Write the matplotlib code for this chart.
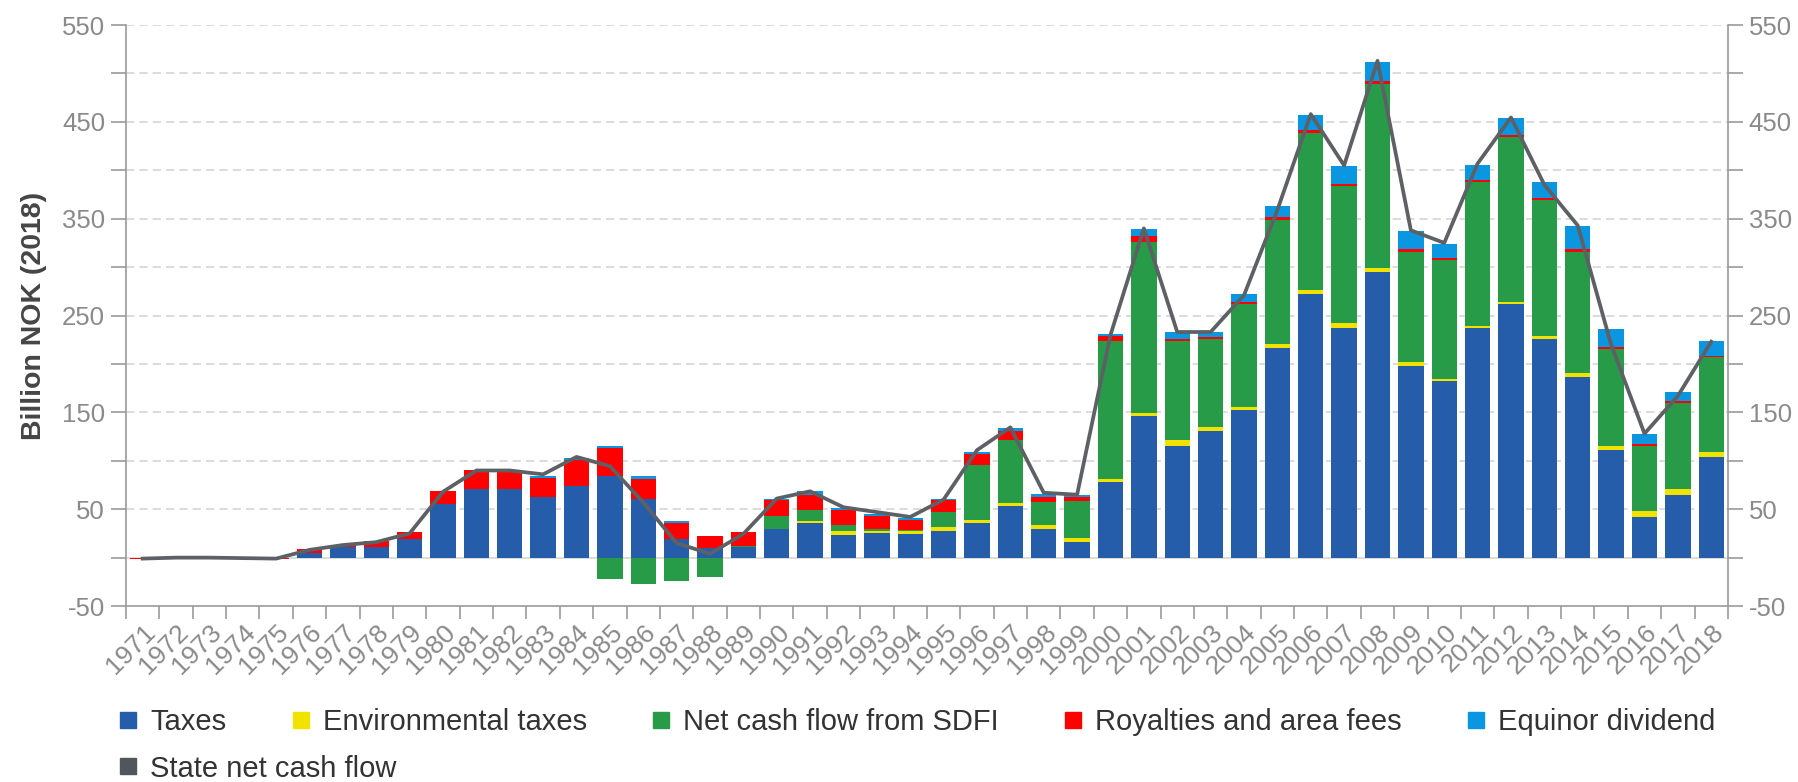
import numpy as np
import matplotlib
matplotlib.use("Agg")
import matplotlib.pyplot as plt
from matplotlib.lines import Line2D

plt.rcParams['font.family'] = ['Liberation Sans', 'DejaVu Sans']

years = list(range(1971, 2019))

taxes = [0, 0, 0, 0, 0, 5, 11, 10.5, 19, 55,
         70.5, 70.5, 63, 74, 84.5, 61, 19.5, 10, 11, 30,
         36, 23.5, 25.5, 24, 28, 35.5, 53, 30, 16.5, 78,
         146, 115, 130.5, 152, 216, 272, 237.5, 295, 198, 182.5,
         237.5, 262, 225.5, 186.5, 111, 42, 65, 104]
env_taxes = [0, 0, 0, 0, 0, 0, 0, 0, 0, 0,
             0, 0, 0, 0, 0, 0, 0, 0, 0, 0,
             2, 4, 2, 3.5, 3.5, 3.3, 3.3, 3.5, 3.3, 3.5,
             3.7, 6, 4, 4, 5, 4, 5.3, 4, 4, 2.2,
             2.2, 2, 3.6, 4, 4, 5.7, 5.5, 5]
sdfi = [0, 0, 0, 0, 0, 0, 0, 0, 0, 0,
        0, 0, 0, 0, -22.5, -27.5, -24.5, -20.5, 1, 13,
        11, 5.8, 2, 0.8, 16, 57, 65.3, 23.5, 38.7, 142,
        176.3, 103, 91, 106, 128, 162, 141, 190, 114, 122.3,
        148.3, 170.6, 140, 125, 100.6, 67.3, 89.5, 97.7]
royalties = [-1, 0, 0, -0.8, -1, 4, 2, 6.5, 7, 13.5,
             19.5, 19.5, 19, 27, 28.5, 20, 16.5, 12, 14, 16,
             16, 15.5, 13.8, 11, 11.5, 11, 9, 6, 4.5, 5.5,
             5.7, 2, 2.6, 2, 2.4, 4, 2, 3.5, 3, 2,
             2, 2, 2, 3, 2, 2, 2, 2]
equinor = [0, 0, 0, 0, 0, 0, 0, 0, 0, 0,
           0, 0, 2, 2, 2.5, 3, 1.5, 0, 0, 2,
           3.5, 2, 2, 2, 2, 2, 3.5, 3, 1.7, 2,
           7.8, 7, 5, 8, 11.6, 15, 19, 19, 18.5, 14.7,
           15, 17, 16.7, 24, 18, 11, 9, 15.3]
net_cash_flow = [-1, 0, 0, -0.5, -1, 8, 13, 16, 25, 68,
                 90, 90, 86, 104, 94.5, 57, 15, 4, 24.5, 61,
                 68.5, 52, 47, 42, 60, 111, 134.5, 67, 65, 230,
                 340, 233, 233, 271, 359, 458, 405, 513, 338, 325,
                 407, 454.5, 385, 343, 220, 128, 167, 223]

series = [
    ("Taxes", taxes, "#265dab"),
    ("Environmental taxes", env_taxes, "#f2e200"),
    ("Net cash flow from SDFI", sdfi, "#279b48"),
    ("Royalties and area fees", royalties, "#ff0000"),
    ("Equinor dividend", equinor, "#0a96e0"),
]
line_color = "#5d6166"
axis_color = "#9a9a9a"
label_color = "#8a8a8a"

fig = plt.figure(figsize=(17.99, 7.82), dpi=100)
ax = fig.add_axes([0.070, 0.225, 0.8905, 0.743])

x = np.array(years)
pos_bottom = np.zeros(len(years))
neg_bottom = np.zeros(len(years))
for name, vals, color in series:
    v = np.array(vals, dtype=float)
    bottom = np.where(v >= 0, pos_bottom, neg_bottom)
    ax.bar(x, v, bottom=bottom, width=0.76, color=color, zorder=3)
    pos_bottom += np.where(v >= 0, v, 0)
    neg_bottom += np.where(v < 0, v, 0)

ax.plot(x, net_cash_flow, color=line_color, lw=2.7, zorder=4)

ax.set_xlim(1970.5, 2018.5)
ax.set_ylim(-50, 550)
yt = np.arange(-50, 551, 50)
ylabels = [str(v) if (v + 50) % 100 == 0 else "" for v in yt]
ax.set_yticks(yt)
ax.set_yticklabels(ylabels)
for v in np.arange(50, 551, 50):
    ax.axhline(v, color="#d6d6d6", lw=1.2, ls=(0, (5, 3)), zorder=1)
ax.axhline(0, color="#d6d6d6", lw=1.2, zorder=1)

ax.set_xticks(x)
ax.set_xticklabels([str(y) for y in years], rotation=45, ha="right",
                   rotation_mode="anchor", color=label_color, fontsize=19)
ax.set_xticks(np.arange(1970.5, 2019, 1), minor=True)
ax.tick_params(axis="x", which="major", length=0, pad=10)
ax.tick_params(axis="x", which="minor", length=9, width=1.2, color=axis_color)
ax.tick_params(axis="y", length=11, width=1.2, color=axis_color,
               labelcolor=label_color, labelsize=18.5, pad=4)

for s in ["top", "right"]:
    ax.spines[s].set_visible(False)
for s in ["left", "bottom"]:
    ax.spines[s].set_color(axis_color)
    ax.spines[s].set_linewidth(1.2)

ax.set_ylabel("Billion NOK (2018)", fontsize=20.5, fontweight="bold",
              color="#454545", labelpad=11)

ax2 = ax.twinx()
ax2.set_ylim(-50, 550)
ax2.set_yticks(yt)
ax2.set_yticklabels(ylabels)
ax2.tick_params(axis="y", length=11, width=1.2, color=axis_color,
                labelcolor=label_color, labelsize=18.5, pad=4)
for s in ["top", "left", "bottom"]:
    ax2.spines[s].set_visible(False)
ax2.spines["right"].set_color(axis_color)
ax2.spines["right"].set_linewidth(1.2)

handles = [Line2D([], [], marker="s", ls="none", markersize=11, color=c)
           for _, _, c in series]
fig.legend(handles, [n for n, _, _ in series], loc="center left",
           bbox_to_anchor=(0.0665, 0.077), ncol=5, frameon=False,
           fontsize=21, handletextpad=0.45, columnspacing=2.25,
           borderpad=0, borderaxespad=0, handlelength=0.6,
           labelcolor="#333333")
fig.legend([Line2D([], [], marker="s", ls="none", markersize=11, color="#50565c")],
           ["State net cash flow"], loc="center left",
           bbox_to_anchor=(0.0665, 0.017), frameon=False, fontsize=21,
           handletextpad=0.45, borderpad=0, borderaxespad=0, handlelength=0.6,
           labelcolor="#333333")

fig.savefig("out.png", dpi=100)
